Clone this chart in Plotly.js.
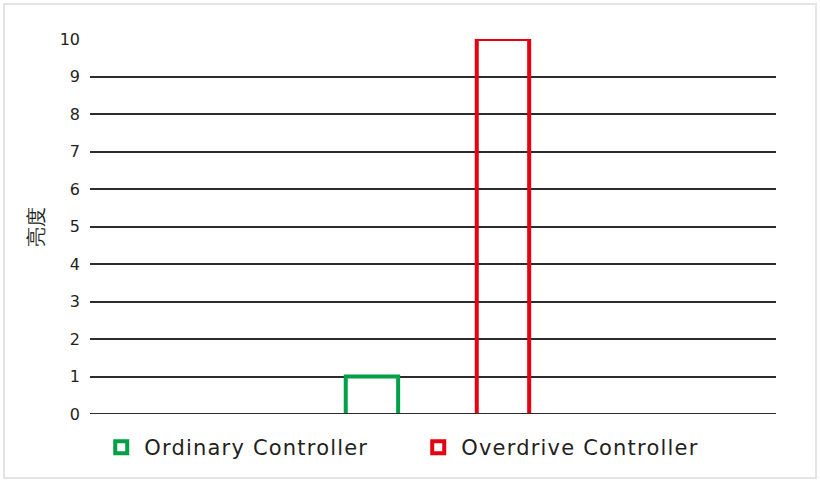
<!DOCTYPE html>
<html><head><meta charset="utf-8">
<script src="https://cdn.plot.ly/plotly-3.0.1.min.js"></script>
<style>
html,body{margin:0;padding:0;background:#fff;}
#wrap{position:relative;width:820px;height:482px;}
#chart{width:820px;height:482px;}
#frame{position:absolute;left:3px;top:3px;width:810px;height:472px;border:2px solid #e4e4e4;pointer-events:none;}
.legendtext{letter-spacing:1.2px;}
</style></head>
<body>
<div id="wrap"><div id="chart"></div><div id="frame"></div></div>
<script>
const seriesNames = ["Ordinary Controller", "Overdrive Controller"];
const seriesPos = [1, 2];
const seriesValues = [1, 10];
const seriesColors = ["#00a047", "#e60012"];
const yTicks = [0,1,2,3,4,5,6,7,8,9,10];
const yTitle = "亮度";

// base set below the visible range so the bar's bottom edge is clipped away
const hiddenBase = -0.3;
const traces = seriesNames.map((n, i) => ({
  type: "bar",
  name: n,
  x: [seriesPos[i]],
  base: [hiddenBase],
  y: [seriesValues[i] - hiddenBase],
  width: 0.4,
  marker: {color: "rgba(255,255,255,0)", line: {color: seriesColors[i], width: 4}},
  hoverinfo: "skip"
}));

const textColor = "#231f20";
const layout = {
  width: 820, height: 482,
  margin: {l: 90, r: 44, t: 39, b: 68, autoexpand: false},
  paper_bgcolor: "#fff", plot_bgcolor: "#fff",
  font: {family: "DejaVu Sans, sans-serif", color: textColor},
  showlegend: true,
  legend: {orientation: "h", x: 0.012, xanchor: "left", y: -0.035, yanchor: "top",
           font: {size: 21, color: textColor}, itemwidth: 36, entrywidth: 266,
           entrywidthmode: "pixels", traceorder: "normal"},
  xaxis: {range: [-1.152, 4.084], showgrid: false, zeroline: false, showticklabels: false,
          ticks: "", showline: false, fixedrange: true},
  yaxis: {range: [0, 10], tickvals: yTicks, ticktext: yTicks.map(String),
          showgrid: true, gridcolor: "#2e2b2c", gridwidth: 2, zeroline: false,
          showline: false, ticks: "", ticklabelstandoff: 9,
          tickfont: {size: 16, color: textColor},
          title: {text: yTitle, font: {size: 20, color: textColor}, standoff: 10},
          fixedrange: true},
  shapes: [{type: "line", xref: "paper", yref: "y", x0: 0, x1: 1, y0: 0, y1: 0,
            line: {color: "#2e2b2c", width: 2}, layer: "above"}],
  bargap: 0
};
Plotly.newPlot("chart", traces, layout, {displayModeBar: false, staticPlot: true});
</script>
</body></html>
